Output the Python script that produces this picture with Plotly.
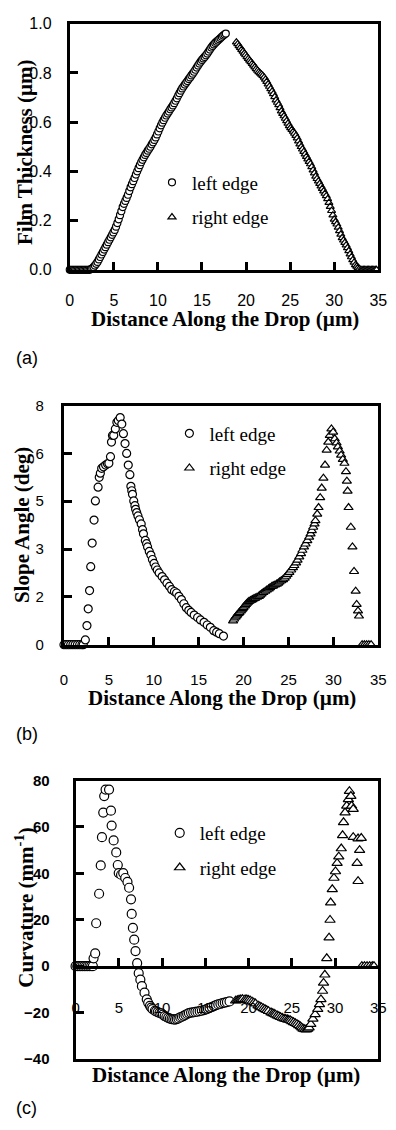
import plotly.graph_objects as go

# ---------------- data ----------------
# (a) film thickness, um
a_left_x = [0.0, 0.15, 0.3, 0.45, 0.6, 0.75, 0.9, 1.05, 1.2, 1.35, 1.5, 1.65,
            1.8, 1.95, 2.1, 2.25,
            2.4, 2.55, 2.7, 2.85, 3.0, 3.15, 3.3, 3.45, 3.6, 3.75, 3.9, 4.05,
            4.2, 4.35, 4.5, 4.65, 4.8, 4.95, 5.1, 5.25, 5.4, 5.55, 5.7, 5.85,
            6.0, 6.15, 6.3, 6.45, 6.6, 6.75, 6.9, 7.05, 7.2, 7.35, 7.5, 7.65,
            7.8, 7.95, 8.1, 8.25, 8.4, 8.55, 8.7, 8.85, 9.0, 9.15, 9.3, 9.45,
            9.6, 9.75, 9.9, 10.05, 10.2, 10.35, 10.5, 10.65, 10.8, 10.95, 11.1,
            11.25, 11.4, 11.55, 11.7, 11.85, 12.0, 12.15, 12.3, 12.45, 12.6,
            12.75, 12.9, 13.05, 13.2, 13.35, 13.5, 13.65, 13.8, 13.95, 14.1,
            14.25, 14.4, 14.55, 14.7, 14.85, 15.0, 15.15, 15.3, 15.45, 15.6,
            15.75, 15.9, 16.05, 16.2, 16.35, 16.5, 16.65, 16.8, 16.95, 17.1,
            17.25, 17.4, 17.55, 17.7]
a_left_y = [0, 0, 0, 0, 0, 0, 0, 0, 0, 0, 0, 0, 0, 0, 0, 0,
            0.003, 0.006, 0.011, 0.017, 0.024, 0.032, 0.042, 0.052, 0.062,
            0.072, 0.082, 0.092, 0.102, 0.112, 0.122, 0.132, 0.142, 0.152,
            0.162, 0.175, 0.19, 0.205, 0.222, 0.238, 0.255, 0.268, 0.28, 0.292,
            0.305, 0.32, 0.335, 0.348, 0.36, 0.373, 0.387, 0.40, 0.413, 0.425,
            0.437, 0.447, 0.457, 0.467, 0.475, 0.484, 0.492, 0.5, 0.51, 0.518,
            0.528, 0.538, 0.55, 0.562, 0.575, 0.587, 0.598, 0.608, 0.618, 0.627,
            0.635, 0.643, 0.652, 0.66, 0.668, 0.677, 0.687, 0.697, 0.708, 0.718,
            0.728, 0.737, 0.745, 0.753, 0.76, 0.767, 0.775, 0.782, 0.79, 0.797,
            0.805, 0.813, 0.822, 0.83, 0.838, 0.846, 0.853, 0.859, 0.865, 0.872,
            0.879, 0.887, 0.895, 0.903, 0.91, 0.916, 0.922, 0.927, 0.932, 0.937,
            0.942, 0.947, 0.952, 0.956, 0.96]
a_right_x = [18.9, 19.05, 19.2, 19.35, 19.5, 19.65, 19.8, 19.95, 20.1, 20.25,
             20.4, 20.55, 20.7, 20.85, 21.0, 21.15, 21.3, 21.45, 21.6, 21.75,
             21.9, 22.05, 22.2, 22.35, 22.5, 22.65, 22.8, 22.95, 23.1, 23.25,
             23.4, 23.55, 23.7, 23.85, 24.0, 24.15, 24.3, 24.45, 24.6, 24.75,
             24.9, 25.05, 25.2, 25.35, 25.5, 25.65, 25.8, 25.95, 26.1, 26.25,
             26.4, 26.55, 26.7, 26.85, 27.0, 27.15, 27.3, 27.45, 27.6, 27.75,
             27.9, 28.05, 28.2, 28.35, 28.5, 28.65, 28.8, 28.95, 29.1, 29.25,
             29.4, 29.55, 29.7, 29.85, 30.0, 30.15, 30.3, 30.45, 30.6, 30.75,
             30.9, 31.05, 31.2, 31.35, 31.5, 31.65, 31.8, 31.95, 32.1, 32.25,
             32.4, 32.55, 32.7, 32.85,
             33.0, 33.15, 33.3, 33.45, 33.6, 33.75, 33.9, 34.05, 34.2, 34.35,
             34.5, 34.65, 34.8]
a_right_y = [0.925, 0.918, 0.91, 0.903, 0.895, 0.888, 0.88, 0.873, 0.865,
             0.858, 0.851, 0.845, 0.838, 0.831, 0.824, 0.817, 0.81, 0.804,
             0.799, 0.794, 0.789, 0.782, 0.774, 0.765, 0.755, 0.745, 0.735,
             0.725, 0.715, 0.703, 0.69, 0.68, 0.67, 0.658, 0.645, 0.635, 0.625,
             0.615, 0.605, 0.595, 0.585, 0.577, 0.57, 0.562, 0.554, 0.545, 0.535,
             0.523, 0.511, 0.5, 0.49, 0.48, 0.47, 0.46, 0.45, 0.44, 0.43, 0.418,
             0.405, 0.393, 0.38, 0.37, 0.36, 0.35, 0.34, 0.33, 0.32, 0.31, 0.30,
             0.288, 0.273, 0.257, 0.24, 0.222, 0.205, 0.195, 0.185, 0.172, 0.158,
             0.144, 0.13, 0.12, 0.11, 0.1, 0.089, 0.077, 0.064, 0.052, 0.04,
             0.03, 0.02, 0.014, 0.009, 0.004,
             0, 0, 0, 0, 0, 0, 0, 0, 0, 0, 0, 0, 0]

# (b) slope angle, deg
b_left_x = [0.0, 0.25, 0.5, 0.75, 1.0, 1.25, 1.5, 1.75, 2.0, 2.15,
            2.38, 2.56, 2.7, 2.85, 2.98, 3.14, 3.35, 3.5, 3.8, 3.93, 4.05, 4.2,
            4.4, 4.64, 4.85, 5.0, 5.18, 5.29, 5.4, 5.54, 5.72, 5.89, 6.05, 6.26,
            6.44, 6.62, 6.8, 6.98, 7.16, 7.34, 7.45, 7.55, 7.63, 7.77, 7.9, 7.98,
            8.1, 8.24, 8.4, 8.6, 8.75, 8.85, 9.06, 9.2, 9.31, 9.5, 9.68, 9.85,
            10.03, 10.2, 10.39, 10.6, 10.93, 11.2, 11.47, 11.75, 12.0, 12.3,
            12.54, 12.8, 13.08, 13.35, 13.62, 13.9, 14.16, 14.5, 14.88, 15.2,
            15.6, 15.95, 16.3, 16.68, 17.0, 17.3, 17.76]
b_left_y = [0, 0, 0, 0, 0, 0, 0, 0, 0, 0,
            0.16, 0.64, 1.2, 1.81, 2.61, 3.40, 4.17, 4.81, 5.27, 5.6, 5.74, 5.90,
            5.95, 6.01, 6.05, 6.07, 6.29, 6.78, 7.0, 7.0, 7.22, 7.44, 7.5, 7.6,
            7.38, 7.06, 6.73, 6.40, 6.01, 5.69, 5.30, 5.15, 5.03, 4.81, 4.65,
            4.53, 4.42, 4.31, 4.18, 4.04, 3.85, 3.71, 3.49, 3.38, 3.27, 3.12,
            3.0, 2.85, 2.72, 2.6, 2.50, 2.4, 2.28, 2.17, 2.06, 1.95, 1.84, 1.78,
            1.73, 1.62, 1.51, 1.37, 1.24, 1.15, 1.08, 0.99, 0.91, 0.83, 0.75,
            0.66, 0.58, 0.47, 0.42, 0.37, 0.29]
b_right_x = [18.83, 18.95, 19.1, 19.2, 19.3, 19.45, 19.55, 19.7, 19.8, 19.9,
             20.0, 20.15, 20.27, 20.4, 20.5, 20.6, 20.75, 20.85, 20.99, 21.15,
             21.3, 21.5, 21.7, 21.85, 22.0, 22.2, 22.42, 22.6, 22.8, 22.95,
             23.15, 23.3, 23.5, 23.7, 23.86, 24.0, 24.2, 24.4, 24.58, 24.75,
             24.9, 25.1, 25.3, 25.5, 25.65, 25.85, 26.01, 26.2, 26.4, 26.55,
             26.73, 26.9, 27.1, 27.3, 27.46, 27.6, 27.75, 27.9, 28.0,
             28.2, 28.35, 28.53, 28.7, 28.89, 29.07, 29.25, 29.43, 29.6, 29.78,
             29.97, 30.15, 30.35, 30.5, 30.7, 30.86, 31.05, 31.23, 31.4, 31.5,
             31.58, 31.69, 31.94, 32.12, 32.3, 32.48, 32.59, 32.74, 32.85,
             33.2, 33.45, 33.7, 33.95, 34.2]
b_right_y = [0.80, 0.86, 0.92, 0.96, 1.0, 1.05, 1.08, 1.13, 1.17, 1.21, 1.25,
             1.30, 1.35, 1.39, 1.42, 1.45, 1.47, 1.49, 1.51, 1.54, 1.56, 1.59,
             1.62, 1.66, 1.70, 1.75, 1.79, 1.83, 1.87, 1.91, 1.95, 1.97, 2.0,
             2.03, 2.06, 2.10, 2.14, 2.18, 2.23, 2.29, 2.35, 2.42, 2.50, 2.58,
             2.65, 2.74, 2.83, 2.94, 3.05, 3.16, 3.27, 3.37, 3.48, 3.60, 3.71,
             3.82, 3.93, 4.04, 4.15,
             4.37, 4.59, 4.92, 5.24, 5.57, 6.01, 6.51, 6.78, 7.0, 7.22, 7.11,
             6.89, 6.75, 6.62, 6.48, 6.34, 6.2, 6.07, 5.79, 5.47, 5.14, 4.59,
             3.93, 3.27, 2.45, 1.79, 1.35, 1.13, 0.96,
             0, 0, 0, 0, 0]

# (c) curvature, mm^-1
c_left_x = [0.0, 0.2, 0.4, 0.6, 0.8, 1.0, 1.2, 1.4, 1.6, 1.8, 2.0,
            2.08, 2.27, 2.38, 2.72, 2.91, 3.05, 3.2, 3.31, 3.47, 3.87, 4.09,
            4.17, 4.4, 4.7, 4.88, 4.99, 5.26, 5.51, 5.74, 6.0, 6.19, 6.41, 6.49,
            6.63, 6.78, 6.93, 7.12, 7.3, 7.49, 7.67, 7.97, 8.23, 8.4, 8.6, 8.75,
            8.9, 9.17, 9.3, 9.5, 9.7, 9.91, 10.1, 10.3, 10.5, 10.7, 10.9, 11.1,
            11.3, 11.5, 11.7, 11.9, 12.1, 12.3, 12.5, 12.7, 12.9, 13.1, 13.35,
            13.6, 13.85, 14.1, 14.35, 14.6, 14.85, 15.1, 15.3, 15.5, 15.75,
            16.0, 16.25, 16.5, 16.75, 17.0, 17.25, 17.5, 17.8]
c_left_y = [0, 0, 0, 0, 0, 0, 0, 0, 0, 0, 0,
            3.4, 5.5, 18.5, 31.2, 43.4, 55.6, 66.2, 73.3, 76.1, 76.1, 67.0,
            60.6, 54.2, 49.0, 43.6, 40.1, 39.4, 40.1, 38.0, 36.3, 33.8, 28.8,
            22.5, 16.5, 11.4, 6.5, 1.3, -3.0, -5.8, -8.6, -11.4, -14.3, -15.8,
            -17.1, -17.9, -18.5, -19.2, -19.5, -19.8, -20.1, -20.3, -20.9,
            -21.5, -21.9, -22.3, -22.6, -22.8, -22.9, -23.0, -22.8, -22.5,
            -22.1, -21.8, -21.4, -21.0, -20.6, -20.2, -20.0, -19.9, -19.7,
            -19.6, -19.4, -19.2, -18.9, -18.6, -18.3, -18.0, -17.6, -17.2,
            -16.8, -16.5, -16.2, -15.9, -15.7, -15.5, -15.2]
c_right_x = [18.5, 18.7, 18.9, 19.1, 19.3, 19.6, 19.8, 20.0, 20.2, 20.4, 20.6,
             20.8, 21.1, 21.3, 21.5, 21.7, 21.9, 22.1, 22.3, 22.6, 22.8, 22.96,
             23.1, 23.3, 23.5, 23.7, 23.9, 24.1, 24.3, 24.5, 24.65, 24.83, 25.0,
             25.2, 25.4, 25.6, 25.8, 26.0, 26.15, 26.3, 26.5, 26.69, 26.85,
             27.0, 27.2, 27.44, 27.7, 28.0, 28.2, 28.37, 28.56, 28.67,
             28.82, 29.04, 29.31, 29.42, 29.49, 29.68, 29.87, 30.05, 30.24,
             30.43, 30.72, 30.87, 30.98, 31.16, 31.35, 31.54, 31.66, 31.83,
             31.91, 32.1, 32.1, 32.66, 33.03, 32.84, 32.55, 32.66,
             33.1, 33.4, 33.7, 34.0, 34.3, 34.5]
c_right_y = [-14.9, -14.7, -14.5, -14.3, -14.2, -14.3, -14.4, -14.6, -14.9,
             -15.3, -15.7, -16.1, -17.0, -17.4, -17.8, -18.2, -18.6, -19.0,
             -19.4, -20.0, -20.3, -20.6, -20.9, -21.3, -21.6, -22.0, -22.3,
             -22.6, -22.8, -23.0, -23.2, -23.4, -23.8, -24.2, -24.6, -25.0,
             -25.5, -26.0, -26.5, -27.0, -27.2, -27.3, -27.0, -26.5, -25.0,
             -22.7, -20.8, -18.5, -16.5, -14.3, -10.7, -7.2,
             -3.7, 3.4, 12.3, 19.9, 27.4, 33.1, 38.0, 40.8, 44.4, 47.2, 50.7,
             56.4, 62.0, 66.2, 69.1, 71.9, 75.4, 73.3, 69.1, 67.7, 55.6, 55.0,
             55.2, 50.0, 44.4, 36.6,
             0, 0, 0, 0, 0, 0]

x_ticks = [0, 5, 10, 15, 20, 25, 30, 35]
a_y_ticks = [0.0, 0.2, 0.4, 0.6, 0.8, 1.0]
a_y_text = ["0.0", "0.2", "0.4", "0.6", "0.8", "1.0"]
b_y_ticks = [0, 1.6, 3.2, 4.8, 6.4, 8]
b_y_text = ["0", "2", "3", "5", "6", "8"]
c_y_ticks = [-40, -20, 0, 20, 40, 60, 80]

series_names = ["left edge", "right edge"]

# ---------------- layout helpers ----------------
W, H = 396, 1130


def fx(p):
    return p / W


def fy(p):
    return 1 - p / H


SERIF = "Liberation Serif, Times New Roman, serif"
SANS = "Liberation Sans, Arial, sans-serif"


def circle(size):
    return dict(symbol="circle", size=size, color="white",
                line=dict(color="black", width=1.2))


def tri(size):
    return dict(symbol="triangle-up", size=size, color="white",
                line=dict(color="black", width=1.2))


fig = go.Figure()

panels = [
    ("x", "x", "y", "legend", 7, a_left_x, a_left_y, a_right_x, a_right_y),
    ("x2", "x2", "y2", "legend2", 8, b_left_x, b_left_y, b_right_x, b_right_y),
    ("x3", "x4", "y3", "legend3", 9, c_left_x, c_left_y, c_right_x, c_right_y),
]
for i, (xl, xr, ya, lg, ms, lx, ly, rx, ry) in enumerate(panels):
    fig.add_trace(go.Scatter(x=lx, y=ly, mode="markers", name=series_names[0],
                             marker=circle(ms), xaxis=xl, yaxis=ya, legend=lg,
                             legendgroup=f"l{i}", cliponaxis=False))
    fig.add_trace(go.Scatter(x=rx, y=ry, mode="markers", name=series_names[1],
                             marker=tri(ms), xaxis=xr, yaxis=ya, legend=lg,
                             legendgroup=f"r{i}", cliponaxis=False))

frame = dict(showline=True, linecolor="black", linewidth=3, mirror=True,
             showgrid=False, zeroline=False, ticks="inside", ticklen=8,
             tickwidth=2.5, tickcolor="black")

tickfont_a = dict(family=SANS, size=16, color="black")
tickfont_b = dict(family=SANS, size=15, color="black")
tickfont_cx = dict(family=SANS, size=15, color="black")
tickfont_cy = dict(family=SANS, size=15, color="black", weight="bold")

fig.update_layout(
    width=W, height=H,
    margin=dict(l=0, r=0, t=0, b=0),
    paper_bgcolor="white", plot_bgcolor="white",
    showlegend=True,
    # panel (a)
    xaxis=dict(domain=[fx(68), fx(387)], range=[0, 35], tickvals=x_ticks,
               anchor="y", tickfont=tickfont_a, ticklabelstandoff=14, **frame),
    yaxis=dict(domain=[fy(265), fy(15)], range=[0, 1], tickvals=a_y_ticks,
               ticktext=a_y_text, anchor="x", tickfont=tickfont_a,
               ticklabelstandoff=12, **frame),
    # panel (b)
    xaxis2=dict(domain=[fx(62), fx(387)], range=[0, 35], tickvals=x_ticks,
                anchor="y2", tickfont=tickfont_b, ticklabelstandoff=19, **frame),
    yaxis2=dict(domain=[fy(646), fy(403)], range=[0, 8], tickvals=b_y_ticks,
                ticktext=b_y_text, anchor="x2", tickfont=tickfont_b,
                ticklabelstandoff=14, **frame),
    # panel (c): frame axis at the bottom, labelled axis crossing at y = 0
    xaxis3=dict(domain=[fx(74), fx(387)], range=[0, 35], anchor="y3",
                showline=True, linecolor="black", linewidth=3, mirror=True,
                showgrid=False, zeroline=False, ticks="",
                showticklabels=False),
    xaxis4=dict(overlaying="x3", anchor="free", position=fy(973),
                range=[0, 35], tickvals=x_ticks, side="bottom",
                showline=True, linecolor="black", linewidth=2.5,
                showgrid=False, zeroline=False, ticks="inside", ticklen=8,
                tickwidth=2.5, tickcolor="black", tickfont=tickfont_cx,
                ticklabelstandoff=27),
    yaxis3=dict(domain=[fy(1067), fy(784)], range=[-40, 80],
                tickvals=c_y_ticks, anchor="x3", tickfont=tickfont_cy,
                ticklabelstandoff=20, **frame),
)

leg_common = dict(font=dict(family=SERIF, size=19, color="black"),
                  bgcolor="rgba(0,0,0,0)", borderwidth=0, tracegroupgap=7,
                  xanchor="left", yanchor="top", itemclick=False)
fig.update_layout(
    legend=dict(x=fx(153), y=fy(157), **leg_common),
    legend2=dict(x=fx(171), y=fy(412), **leg_common),
    legend3=dict(x=fx(161), y=fy(818), **leg_common),
)

title_font = dict(family=SERIF, size=21, color="black", weight="bold")
ann = []
# x-axis titles
for cx, cy in [(228, 315), (225, 700), (230, 1083)]:
    ann.append(dict(text="Distance Along the Drop (\u00b5m)", x=fx(cx), y=fy(cy),
                    xref="paper", yref="paper", showarrow=False,
                    xanchor="center", yanchor="middle", font=title_font))
# y-axis titles
for txt, cx, cy in [("Film Thickness (\u00b5m)", 21, 145),
                    ("Slope Angle (deg)", 18, 524),
                    ("Curvature (mm<sup>-1</sup>)", 21, 913)]:
    ann.append(dict(text=txt, x=fx(cx), y=fy(cy), xref="paper", yref="paper",
                    showarrow=False, textangle=-90, xanchor="center",
                    yanchor="middle", font=title_font))
# panel labels
for txt, cy in [("(a)", 355), ("(b)", 737), ("(c)", 1117)]:
    ann.append(dict(text=txt, x=fx(10), y=fy(cy), xref="paper", yref="paper",
                    showarrow=False, xanchor="left", yanchor="middle",
                    font=dict(family=SANS, size=18, color="black")))
fig.update_layout(annotations=ann)

fig.write_html("out.html")
